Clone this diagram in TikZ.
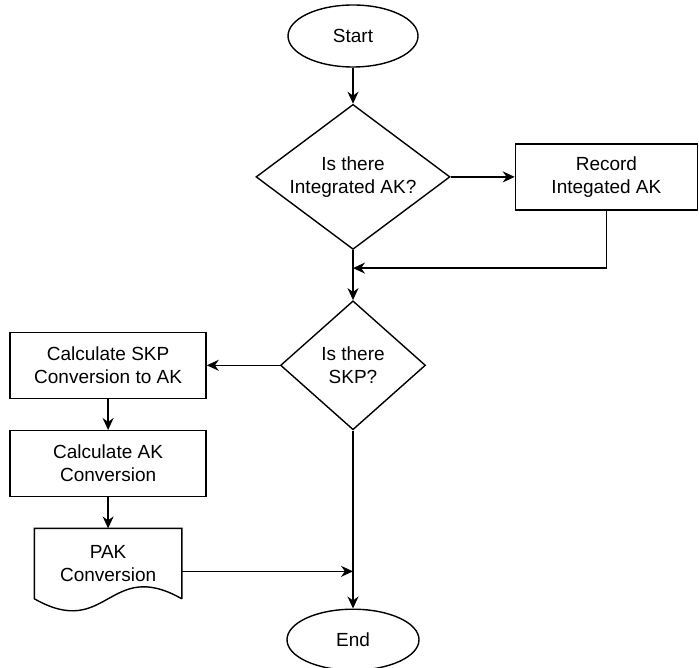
\documentclass[tikz,border=0pt]{standalone}
\usepackage{fontspec}
\setmainfont{Liberation Sans}
\usetikzlibrary{positioning,arrows.meta,calc,shapes.geometric}
\newcommand{\chartfont}{\fontsize{9.5}{11.5}\selectfont}
\tikzset{
  termbox/.style={draw,ellipse,minimum width=65pt,minimum height=31pt,inner sep=0pt,font=\chartfont},
  decbox/.style={draw,diamond,shape aspect=1.3,inner sep=0pt,align=center,font=\chartfont},
  procbox/.style={draw,rectangle,minimum width=98pt,minimum height=33pt,inner sep=2pt,align=center,font=\chartfont},
  docbox/.style={rectangle,minimum width=73pt,minimum height=34.5pt,inner sep=0pt,align=center,font=\chartfont},
  flow/.style={-{Stealth[length=6pt,width=5.5pt]},line width=0.7pt},
}

\begin{document}
\begin{tikzpicture}[line width=0.7pt]
  \path[use as bounding box] (0,0) rectangle (349.5pt,-333.5pt);
  \node[termbox] (start) at (176.5pt,-18pt) {Start};
  \node[decbox,minimum width=97pt,minimum height=72.5pt,below=18pt of start] (isint) {Is there\\Integrated AK?};
  \node[procbox,minimum width=91pt,right=32pt of isint] (record) {Record\\Integated AK};
  \node[decbox,minimum width=72.5pt,minimum height=64.5pt,below=25pt of isint] (isskp) {Is there\\SKP?};
  \node[procbox,left=36.5pt of isskp] (calcskp) {Calculate SKP\\Conversion to AK};
  \node[procbox,below=15.5pt of calcskp] (calcak) {Calculate AK\\Conversion};
  \node[docbox,below=15.5pt of calcak] (pak) {PAK\\Conversion};
  \node[termbox,minimum width=66pt,minimum height=30.5pt,below=89pt of isskp] (end) {End};
  % document outline with wavy bottom
  \draw (pak.south east) -- (pak.north east) -- (pak.north west) -- (pak.south west)
    .. controls +(36.5pt,-20.8pt) and +(-36.5pt,20.8pt) .. (pak.south east);
  \coordinate[below=9pt of isint.south] (join1);
  \coordinate (join2) at (pak.-6 -| isskp.south);
  \draw[flow] (start) -- (isint);
  \draw[flow] (isint) -- (record);
  \draw[flow] (record.south) |- (join1);
  \draw[flow] (isint.south) -- (isskp.north);
  \draw[flow] (isskp.west) -- (calcskp.east);
  \draw[flow] (calcskp) -- (calcak);
  \draw[flow] (calcak) -- (pak);
  \draw[flow] (pak.-6) -- (join2);
  \draw[flow] (isskp.south) -- (end.north);
\end{tikzpicture}
\end{document}
